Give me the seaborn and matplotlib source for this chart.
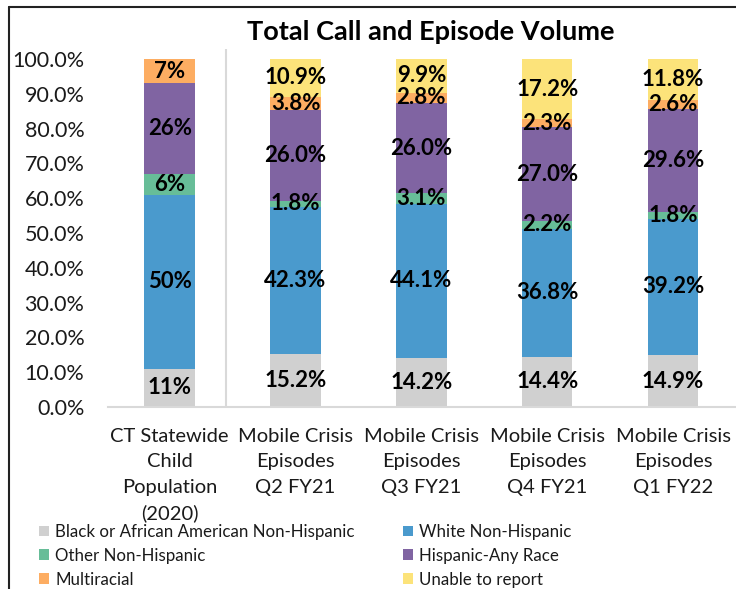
import matplotlib
matplotlib.use("Agg")
import matplotlib.pyplot as plt
from matplotlib.lines import Line2D
from matplotlib.patches import Patch
import numpy as np
import seaborn as sns

# Data: percentage share of each group per category
categories = [
    "CT Statewide\nChild\nPopulation\n(2020)",
    "Mobile Crisis\nEpisodes\nQ2 FY21",
    "Mobile Crisis\nEpisodes\nQ3 FY21",
    "Mobile Crisis\nEpisodes\nQ4 FY21",
    "Mobile Crisis\nEpisodes\nQ1 FY22",
]
series_names = [
    "Black or African American Non-Hispanic",
    "White Non-Hispanic",
    "Other Non-Hispanic",
    "Hispanic-Any Race",
    "Multiracial",
    "Unable to report",
]
black_aa = [11, 15.2, 14.2, 14.4, 14.9]
white = [50, 42.3, 44.1, 36.8, 39.2]
other = [6, 1.8, 3.1, 2.2, 1.8]
hispanic = [26, 26.0, 26.0, 27.0, 29.6]
multiracial = [7, 3.8, 2.8, 2.3, 2.6]
unable = [0, 10.9, 9.9, 17.2, 11.8]

series_values = [black_aa, white, other, hispanic, multiracial, unable]
colors = ["#D0D0D0", "#4A9ACD", "#67BD98", "#8064A2", "#FDAD62", "#FCE37A"]
label_fmt = ["{:.0f}%", "{:.1f}%", "{:.1f}%", "{:.1f}%", "{:.1f}%"]

sns.set_style("white")
plt.rcParams["font.family"] = ["Lato", "DejaVu Sans"]

fig = plt.figure(figsize=(7.36, 5.89), dpi=100)
ax = fig.add_axes([108 / 736, 1 - 407 / 589, 1 - 108 / 736, (407 - 49) / 589])

vals = np.array(series_values, dtype=float)
cum = np.cumsum(vals, axis=0)

# Stacked bars: draw cumulative totals from the top layer down
for i in range(len(series_names) - 1, -1, -1):
    sns.barplot(x=list(range(len(categories))), y=cum[i], color=colors[i],
                width=0.4, ax=ax, saturation=1, linewidth=0, native_scale=False)

# Segment labels
for i in range(len(series_names)):
    for j in range(len(categories)):
        v = vals[i, j]
        if v <= 0:
            continue
        mid = cum[i, j] - v / 2
        ax.text(j, mid, label_fmt[j].format(v), ha="center", va="center",
                fontsize=16, fontweight="bold", color="black")

ax.set_xlim(-0.49, 4.5)
ax.set_ylim(0, 358 / 3.48)
ax.set_yticks(np.arange(0, 101, 10))
ax.set_yticklabels([f"{t:.1f}%" for t in np.arange(0, 101, 10)], fontsize=15.5)
ax.set_xticks(range(len(categories)))
ax.set_xticklabels(categories, fontsize=14.5, linespacing=1.6, va="top")
ax.tick_params(axis="both", length=0, colors="#1a1a1a")
ax.tick_params(axis="y", pad=17)
ax.tick_params(axis="x", pad=15)
ax.set_xlabel("")
ax.set_ylabel("")

for s in ["top", "right", "left"]:
    ax.spines[s].set_visible(False)
ax.spines["bottom"].set_color("#D9D9D9")
ax.spines["bottom"].set_linewidth(1.5)

# Divider between population baseline and episode bars
ax.axvline(0.445, ymin=0, ymax=1, color="#D9D9D9", linewidth=1.5)

fig.text(431 / 736, 1 - 32 / 589, "Total Call and Episode Volume", ha="center",
         va="center", fontsize=19.5, fontweight="bold", color="black")

# Legend, filled column-wise so rows read left-to-right
order = [0, 2, 4, 1, 3, 5]
handles = [Patch(facecolor=colors[k], edgecolor="none", label=series_names[k]) for k in order]
fig.legend(handles=handles, loc="upper left", bbox_to_anchor=(39 / 736, 1 - 524 / 589),
           ncol=2, frameon=False, fontsize=12.2, handlelength=0.6, handleheight=0.6,
           handletextpad=0.35, columnspacing=2.85, labelspacing=0.46,
           borderpad=0, borderaxespad=0, labelcolor="#1a1a1a")

# Outer chart frame
fig.add_artist(Line2D([9 / 736, 9 / 736], [0, 1 - 7 / 589], color="#222222", linewidth=1.5,
                      transform=fig.transFigure))
fig.add_artist(Line2D([9 / 736, 1], [1 - 7 / 589, 1 - 7 / 589], color="#222222", linewidth=1.5,
                      transform=fig.transFigure))

fig.savefig("out.png", dpi=100)
